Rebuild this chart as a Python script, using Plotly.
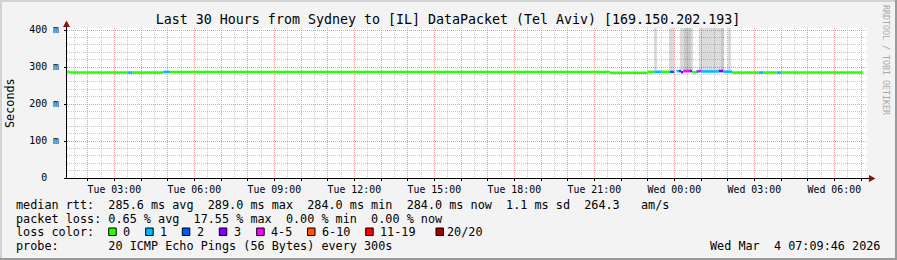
import plotly.graph_objects as go
from datetime import datetime, timedelta

# ---------------- data ----------------
title_text = "Last 30 Hours from Sydney to [IL] DataPacket (Tel Aviv) [169.150.202.193]"
x_start = "2026-03-03 01:13:30"
x_end = "2026-03-04 07:13:30"

# median RTT segments (each lasts until the next start)
seg_start = [
    "2026-03-03 01:13", "2026-03-03 01:15", "2026-03-03 01:20", "2026-03-03 03:30",
    "2026-03-03 03:40", "2026-03-03 04:50", "2026-03-03 05:05", "2026-03-03 21:35",
    "2026-03-03 23:00", "2026-03-03 23:15", "2026-03-03 23:30", "2026-03-03 23:50",
    "2026-03-04 00:00", "2026-03-04 00:05", "2026-03-04 00:10", "2026-03-04 00:15",
    "2026-03-04 00:20", "2026-03-04 00:35", "2026-03-04 00:40", "2026-03-04 00:50",
    "2026-03-04 00:55", "2026-03-04 01:00", "2026-03-04 01:40", "2026-03-04 01:50",
    "2026-03-04 02:10", "2026-03-04 03:10", "2026-03-04 03:20", "2026-03-04 03:50",
    "2026-03-04 04:00",
]
seg_last_end = "2026-03-04 07:05"
seg_ms = [285, 287, 285, 285, 285, 286.5, 286.5, 284.5,
          287, 287, 287, 287, None, 289, 289, 286,
          289, 289, 286, 288, 289, 288, 289, 287.5,
          285, 285, 285, 285, 285]
seg_loss = [0, 0, 0, 1, 0, 1, 0, 0,
            0, 1, 0, 2, None, 1, 2, 3,
            4, 3, 0, 2, 4, 1, 3, 1,
            0, 1, 0, 1, 0]

# smoke (ping spread) bands
smoke_light_start = ["2026-03-03 23:15", "2026-03-03 23:48", "2026-03-04 00:13", "2026-03-04 00:55", "2026-03-04 02:01"]
smoke_light_end = ["2026-03-03 23:21", "2026-03-04 00:00", "2026-03-04 00:41", "2026-03-04 01:52", "2026-03-04 02:07"]
smoke_dark_start = ["2026-03-04 00:22", "2026-03-04 01:46"]
smoke_dark_end = ["2026-03-04 00:37", "2026-03-04 01:52"]
smoke_low_ms = 293
smoke_high_ms = 430

loss_labels = ["0", "1", "2", "3", "4-5", "6-10", "11-19", "20/20"]
loss_thresholds = [0, 1, 2, 3, 4, 6, 11, 20]
loss_colors = ["#26ff00", "#00b8ff", "#0059ff", "#7e00ff", "#ff00ff", "#ff5500", "#ff0000", "#a00000"]

y_tick_vals = [0, 100, 200, 300, 400]
y_tick_text = ["0  ", "100 m", "200 m", "300 m", "400 m"]

stat_median = "median rtt:  285.6 ms avg  289.0 ms max  284.0 ms min  284.0 ms now  1.1 ms sd  264.3   am/s"
stat_loss = "packet loss: 0.65 % avg  17.55 % max  0.00 % min  0.00 % now"
stat_legend_label = "loss color:"
stat_probe = "probe:       20 ICMP Echo Pings (56 Bytes) every 300s"
stamp_text = "Wed Mar  4 07:09:46 2026"
watermark = "RRDTOOL / TOBI OETIKER"

# ---------------- layout geometry ----------------
W, H = 897, 260
L, R, T, B = 67, 30, 28, 82
PW, PH = W - L - R, H - T - B
MONO = "DejaVu Sans Mono"


def px(X):
    return (X - L) / PW


def py(Y):
    return (H - B - Y) / PH


def nb(s):
    return s.replace(" ", "\u00a0")


def dt(s):
    return datetime.strptime(s, "%Y-%m-%d %H:%M")


def loss_class(n):
    idx = 0
    for i, t in enumerate(loss_thresholds):
        if n >= t:
            idx = i
    return idx


fig = go.Figure()


# smoke bands
def add_smoke(starts, ends, color):
    xs = [dt(s) for s in starts]
    widths = [(dt(e) - dt(s)).total_seconds() * 1000 for s, e in zip(starts, ends)]
    fig.add_trace(go.Bar(
        x=xs, y=[smoke_high_ms - smoke_low_ms] * len(xs), base=[smoke_low_ms] * len(xs),
        width=widths, offset=0, marker=dict(color=color, line=dict(width=0)),
        showlegend=False, hoverinfo="skip"))


add_smoke(smoke_light_start, smoke_light_end, "rgba(0,0,0,0.14)")
add_smoke(smoke_dark_start, smoke_dark_end, "rgba(0,0,0,0.08)")

# median line coloured by loss
seg_end = seg_start[1:] + [seg_last_end]
for ci, col in enumerate(loss_colors):
    xs, ys = [], []
    for s, e, v, l in zip(seg_start, seg_end, seg_ms, seg_loss):
        if v is None or loss_class(l) != ci:
            continue
        xs += [dt(s), dt(e), None]
        ys += [v, v, None]
    if xs:
        fig.add_trace(go.Scatter(x=xs, y=ys, mode="lines", line=dict(color=col, width=2.6),
                                 showlegend=False, hoverinfo="skip", connectgaps=False))

# hourly ticks, labelled every 3 hours
t0 = dt("2026-03-03 02:00")
hour_ticks, hour_text = [], []
while t0 <= dt("2026-03-04 07:00"):
    hour_ticks.append(t0)
    hour_text.append(t0.strftime("%a %H:%M") if t0.hour % 3 == 0 else "")
    t0 += timedelta(hours=1)

MGRID = "rgba(255,120,120,0.55)"
GRID = "rgba(140,140,140,0.45)"

fig.update_layout(
    width=W, height=H, margin=dict(l=L, r=R, t=T, b=B),
    paper_bgcolor="#f3f3f3", plot_bgcolor="#ffffff",
    barmode="overlay", bargap=0, showlegend=False, hovermode=False,
    font=dict(family=MONO, size=10, color="#000"),
    title=dict(text=title_text, font=dict(family=MONO, size=13.3, color="#000"),
               xref="container", yref="container", x=448 / W, y=1 - 19.5 / H,
               xanchor="center", yanchor="middle"),
    xaxis=dict(type="date", range=[x_start, x_end], tickmode="array",
               tickvals=hour_ticks, ticktext=hour_text,
               showgrid=True, gridcolor=MGRID, griddash="1px,1px", gridwidth=1,
               ticks="outside", ticklen=2, tickcolor="#000", tickwidth=1,
               tickfont=dict(family=MONO, size=9.9, color="#000"),
               minor=dict(tickmode="linear", tick0="2026-03-03 00:00", dtick=1800000,
                          showgrid=True, gridcolor=GRID, griddash="1px,1px", ticks=""),
               zeroline=False, showline=False, fixedrange=True),
    yaxis=dict(range=[0, 405.4], tickmode="array", tickvals=y_tick_vals,
               ticktext=[nb(t) for t in y_tick_text],
               showgrid=True, gridcolor=MGRID, griddash="1px,1px", gridwidth=1,
               ticks="outside", ticklen=2, tickcolor="#000", tickwidth=1,
               ticklabelstandoff=3,
               tickfont=dict(family=MONO, size=9.9, color="#000"),
               minor=dict(tickmode="linear", tick0=0, dtick=20, showgrid=True,
                          gridcolor=GRID, griddash="1px,1px", ticks=""),
               zeroline=False, showline=False, fixedrange=True),
)

shapes = []
# frame
shapes.append(dict(type="line", xref="paper", yref="paper", x0=px(0), x1=px(W), y0=py(1), y1=py(1),
                   line=dict(color="#d2d2d2", width=2)))
shapes.append(dict(type="line", xref="paper", yref="paper", x0=px(1), x1=px(1), y0=py(0), y1=py(H),
                   line=dict(color="#d2d2d2", width=2)))
shapes.append(dict(type="line", xref="paper", yref="paper", x0=px(0), x1=px(W), y0=py(H - 1), y1=py(H - 1),
                   line=dict(color="#9a9a9a", width=2)))
shapes.append(dict(type="line", xref="paper", yref="paper", x0=px(W - 1), x1=px(W - 1), y0=py(0), y1=py(H),
                   line=dict(color="#9a9a9a", width=2)))
# axes
shapes.append(dict(type="line", xref="paper", yref="paper", x0=px(66), x1=px(870), y0=py(178.5), y1=py(178.5),
                   line=dict(color="#000", width=1)))
shapes.append(dict(type="line", xref="paper", yref="paper", x0=px(66.5), x1=px(66.5), y0=py(179), y1=py(25),
                   line=dict(color="#000", width=1)))
ARROW = "#8b1010"
shapes.append(dict(type="path", xref="paper", yref="paper",
                   path=f"M {px(869)},{py(175)} L {px(875.5)},{py(178.5)} L {px(869)},{py(182)} Z",
                   fillcolor=ARROW, line=dict(width=0)))
shapes.append(dict(type="path", xref="paper", yref="paper",
                   path=f"M {px(63)},{py(27)} L {px(66.5)},{py(20.5)} L {px(70)},{py(27)} Z",
                   fillcolor=ARROW, line=dict(width=0)))

annotations = []


def txt(X, Y, s, xanchor="left", size=11.8, color="#000", angle=0):
    annotations.append(dict(text=nb(s), x=px(X), y=py(Y), xref="paper", yref="paper",
                            xanchor=xanchor, yanchor="middle", showarrow=False,
                            borderpad=0, borderwidth=0, textangle=angle,
                            font=dict(family=MONO, size=size, color=color)))


txt(16, 204.5, stat_median)
txt(16, 218.5, stat_loss)
txt(16, 232.3, stat_legend_label)
txt(16, 246.5, stat_probe)
txt(880, 246.5, stamp_text, xanchor="right")

# loss colour legend
sq_x = [108.7, 145.7, 182.3, 219.3, 256.7, 307.5, 365.7, 436]
lab_x = [123, 160, 196.6, 233.6, 271, 321.8, 380, 447]
for X, LX, col, lab in zip(sq_x, lab_x, loss_colors, loss_labels):
    shapes.append(dict(type="rect", xref="paper", yref="paper",
                       x0=px(X), x1=px(X + 7.5), y0=py(228), y1=py(235.5),
                       fillcolor=col, line=dict(color="#000", width=1)))
    txt(LX, 232.3, lab)

# axis title and watermark
txt(10, 103, "Seconds", xanchor="center", angle=-90)
txt(886, 60, watermark, xanchor="center", size=8.3, color="#a8a8a8", angle=90)

fig.update_layout(shapes=shapes, annotations=annotations)
fig.write_html("out.html", config={"displayModeBar": False, "staticPlot": True})
